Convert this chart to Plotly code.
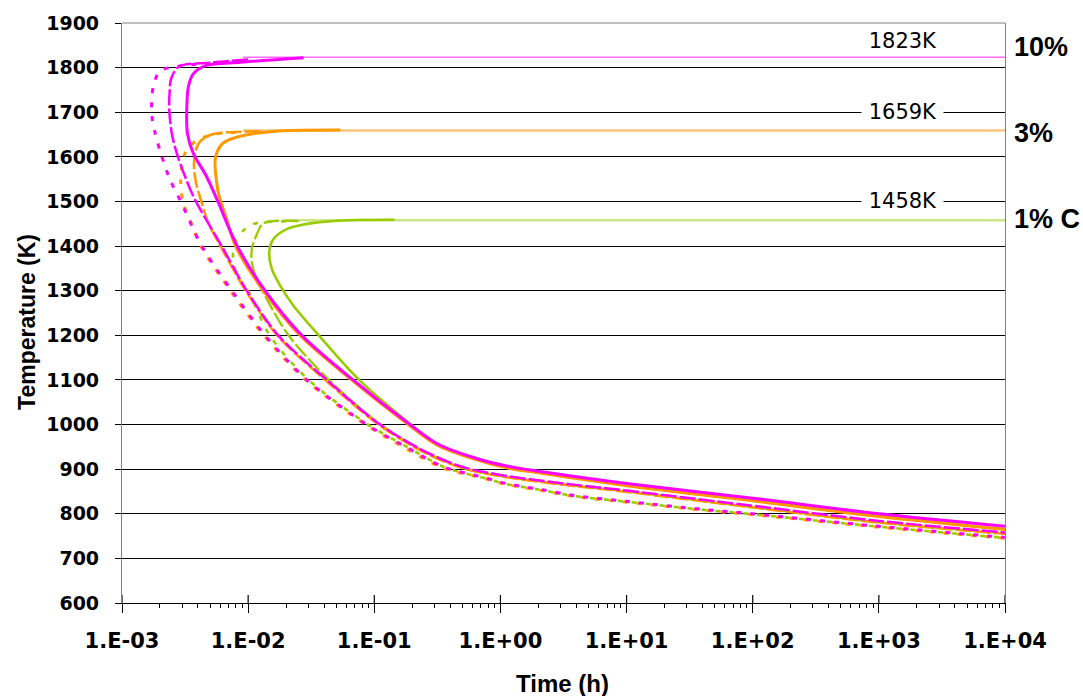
import math
import plotly.graph_objects as go

# ---- data: time (h) and temperature (K) for each curve ----
# 10 % composition (magenta)
mg_sol_t = [0.0275, 0.00871, 0.00468, 0.00367, 0.00336, 0.00326, 0.00330, 0.00367, 0.00468, 0.00575,
            0.00820, 0.0136, 0.0266, 0.0679, 0.192, 0.316, 0.631, 1.12, 1.94, 10, 100, 1000, 10000]
mg_sol_T = [1822, 1812, 1805, 1786, 1757, 1705, 1653, 1608, 1556, 1500,
            1400, 1300, 1200, 1100, 1000, 957, 925, 907, 896, 868, 835, 800, 772]

mg_dash_t = [0.0100, 0.00501, 0.00282, 0.00245, 0.00239, 0.00237, 0.00248, 0.00272, 0.00316, 0.00379,
             0.00617, 0.00975, 0.0173, 0.0420, 0.111, 0.251, 0.501, 1.0, 3.16, 10, 100, 1000, 10000]
mg_dash_T = [1818, 1811, 1802, 1775, 1749, 1705, 1653, 1608, 1556, 1504,
             1400, 1300, 1200, 1100, 1000, 940, 905, 887, 868, 852, 818, 784, 758]

mg_dot_t = [0.00501, 0.00282, 0.00200, 0.00177, 0.00172, 0.00183, 0.00207, 0.00240, 0.00288, 0.00429,
            0.00741, 0.0136, 0.0292, 0.0871, 0.178, 0.355, 0.776, 1.10, 2.04, 3.80, 10, 39.8, 100, 1000, 10000]
mg_dot_T = [1810, 1803, 1792, 1757, 1697, 1653, 1601, 1549, 1504, 1400,
            1300, 1200, 1100, 1000, 950, 905, 880, 868, 855, 841, 828, 810, 800, 772, 747]

# 3 % composition (orange)
or_sol_t = [0.0537, 0.0158, 0.00863, 0.00635, 0.00562, 0.00546, 0.00556, 0.00581, 0.00676, 0.00794,
            0.0132, 0.0257, 0.0661, 0.186, 0.316, 0.631, 1.12, 2.0, 10, 100, 1000, 10000]
or_sol_T = [1660, 1657, 1646, 1631, 1608, 1586, 1556, 1519, 1460, 1400,
            1300, 1200, 1100, 1000, 954, 922, 903, 892, 863, 829, 794, 765]

or_dash_t = [0.0126, 0.00676, 0.00514, 0.00415, 0.00379, 0.00372, 0.00386, 0.00429, 0.00483, 0.00603,
             0.00955, 0.0170, 0.0407, 0.108, 0.251, 0.501, 1.0, 3.16, 10, 100, 1000, 10000]
or_dash_T = [1657, 1655, 1650, 1634, 1608, 1579, 1542, 1497, 1452, 1400,
             1300, 1200, 1100, 1000, 937, 902, 884, 865, 849, 814, 780, 755]

or_dot_t = [0.00794, 0.00530, 0.00379, 0.00316, 0.00292, 0.00306, 0.00357, 0.00422, 0.00724, 0.0133,
            0.0285, 0.0851, 0.174, 0.347, 0.776, 1.10, 2.04, 3.80, 10, 39.8, 100, 1000, 10000]
or_dot_T = [1655, 1650, 1634, 1608, 1549, 1497, 1449, 1400, 1300, 1200,
            1100, 1000, 948, 903, 878, 866, 853, 839, 826, 808, 798, 770, 745]

# 1 % C composition (green)
gr_sol_t = [0.145, 0.0631, 0.0329, 0.0202, 0.0158, 0.0147, 0.0154, 0.0179, 0.0228, 0.0363,
            0.0759, 0.195, 0.316, 0.631, 1.12, 2.0, 10, 100, 1000, 10000]
gr_sol_T = [1459, 1458, 1452, 1438, 1415, 1386, 1349, 1312, 1267, 1200,
            1100, 1000, 955, 923, 904, 893, 864, 830, 795, 764]

gr_dash_t = [0.0251, 0.0132, 0.0117, 0.0107, 0.0107, 0.0117, 0.0140, 0.0209, 0.0437, 0.112,
             0.251, 0.501, 1.0, 3.16, 10, 100, 1000, 10000]
gr_dash_T = [1456, 1451, 1426, 1393, 1363, 1326, 1282, 1200, 1100, 1000,
             939, 903, 885, 866, 850, 815, 781, 756]

gr_dot_t = [0.0200, 0.0104, 0.00794, 0.00759, 0.00832, 0.0100, 0.0148, 0.0302, 0.0891, 0.182,
            0.363, 0.776, 1.10, 2.04, 3.80, 10, 39.8, 100, 1000, 10000]
gr_dot_T = [1455, 1447, 1410, 1370, 1330, 1300, 1200, 1100, 1000, 950,
            904, 879, 867, 854, 840, 827, 809, 799, 771, 746]

# liquidus temperatures and where their reference lines begin
liq_T = [1823, 1659, 1458]
liq_start_t = [0.0091, 0.0091, 0.02]
liq_end_t = 10000
liq_labels = ["1823K", "1659K", "1458K"]
liq_label_T = [1860, 1700, 1500]
liq_label_t = 1550
comp_labels = ["10%", "3%", "1% C"]
comp_label_T = [1846, 1653, 1461]

x_tick_vals = [1e-3, 1e-2, 1e-1, 1e0, 1e1, 1e2, 1e3, 1e4]
x_tick_text = ["1.E-03", "1.E-02", "1.E-01", "1.E+00", "1.E+01", "1.E+02", "1.E+03", "1.E+04"]
y_tick_vals = list(range(600, 2000, 100))

MAGENTA = "#FF00FF"
ORANGE = "#FF9900"
GREEN = "#99CC00"
LIQ_COLORS = ["#FF6BFF", "#FAC67E", "#CCE588"]
LIQ_WIDTHS = [1.5, 2.6, 2.6]

DASH = "16px,3px"
DOT = "5px,9px"

fig = go.Figure()

# liquidus reference lines
for T, t0, c, w in zip(liq_T, liq_start_t, LIQ_COLORS, LIQ_WIDTHS):
    fig.add_trace(go.Scatter(x=[t0, liq_end_t], y=[T, T], mode="lines",
                             line=dict(color=c, width=w), hoverinfo="skip"))

curves = [
    (gr_dot_t, gr_dot_T, GREEN, DOT, 2.6),
    (gr_dash_t, gr_dash_T, GREEN, DASH, 2.3),
    (gr_sol_t, gr_sol_T, GREEN, "solid", 2.6),
    (or_dot_t, or_dot_T, ORANGE, DOT, 3),
    (or_dash_t, or_dash_T, ORANGE, DASH, 2.5),
    (or_sol_t, or_sol_T, ORANGE, "solid", 3),
    (mg_dot_t, mg_dot_T, MAGENTA, DOT, 3),
    (mg_dash_t, mg_dash_T, MAGENTA, DASH, 2.5),
    (mg_sol_t, mg_sol_T, MAGENTA, "solid", 3),
]
for t, T, c, d, w in curves:
    fig.add_trace(go.Scatter(x=t, y=T, mode="lines",
                             line=dict(color=c, width=w, dash=d, shape="spline", smoothing=0.9)))

# liquidus temperature labels (white box breaks the gridline behind them);
# annotation x on a log axis is given as log10 of the value
for T, lab in zip(liq_label_T, liq_labels):
    fig.add_annotation(x=math.log10(liq_label_t), y=T, xref="x", yref="y", text=" " + lab + " ",
                       showarrow=False, bgcolor="white", borderpad=0,
                       font=dict(family="DejaVu Sans", size=21, color="black"))

# composition labels to the right of the plot
for T, lab in zip(comp_label_T, comp_labels):
    fig.add_annotation(x=1, xref="paper", y=T, yref="y", text=lab, showarrow=False,
                       xanchor="left", xshift=7,
                       font=dict(family="Liberation Sans", size=27, color="black", weight="bold"))

# axis titles
fig.add_annotation(x=0, xref="paper", y=0.4846, yref="paper", text="Temperature (K)",
                   textangle=-90, showarrow=False, xanchor="center", yanchor="middle", xshift=-95,
                   font=dict(family="Liberation Sans", size=23, color="black", weight="bold"))
fig.add_annotation(x=0.4994, xref="paper", y=0, yref="paper", text="Time (h)",
                   showarrow=False, xanchor="center", yanchor="middle", yshift=-80,
                   font=dict(family="Liberation Sans", size=24, color="black", weight="bold"))

# top border of the plot area
fig.add_shape(type="line", xref="paper", yref="paper", x0=0, x1=1, y0=1, y1=1,
              line=dict(color="#808080", width=1.2), layer="above")

# major x ticks also reach a little inside the plot area
for v in x_tick_vals:
    fig.add_shape(type="line", xref="x", yref="paper", x0=v, x1=v, y0=0, y1=8,
                  ysizemode="pixel", yanchor=0,
                  line=dict(color="black", width=1.2), layer="above")

minor_vals = [m * 10.0 ** e for e in range(-3, 4) for m in range(2, 10)]

fig.update_layout(
    width=1083, height=696,
    margin=dict(l=122, r=78, t=19, b=93),
    paper_bgcolor="white", plot_bgcolor="white",
    showlegend=False,
    xaxis=dict(type="log", range=[-3, 4], tickmode="array", tickvals=x_tick_vals,
               ticktext=x_tick_text, ticks="outside", ticklen=9, tickcolor="black",
               showline=True, linecolor="black", linewidth=1.2, showgrid=False, zeroline=False,
               ticklabelstandoff=10,
               tickfont=dict(family="DejaVu Sans", size=21, color="black", weight="bold"),
               minor=dict(tickmode="array", tickvals=minor_vals, ticks="outside", ticklen=4,
                          tickcolor="black", showgrid=False)),
    yaxis=dict(range=[600, 1900], tickmode="array", tickvals=y_tick_vals,
               ticks="outside", ticklen=6, tickcolor="black",
               showline=True, linecolor="#808080", linewidth=1.2, mirror=True,
               showgrid=True, gridcolor="black", gridwidth=1.2, zeroline=False,
               ticklabelstandoff=12,
               tickfont=dict(family="DejaVu Sans", size=19, color="black", weight="bold")),
)

fig.write_html("out.html")
